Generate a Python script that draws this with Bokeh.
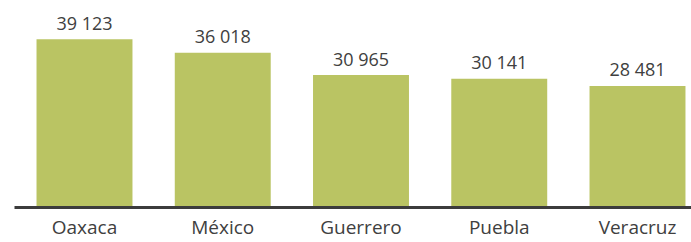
from bokeh.plotting import figure
from bokeh.models import Range1d, FixedTicker, ColumnDataSource
from bokeh.core.properties import value
from bokeh.embed import file_html
from bokeh.resources import INLINE

states = ["Oaxaca", "México", "Guerrero", "Puebla", "Veracruz"]
values = [39123, 36018, 30965, 30141, 28481]
value_labels = ["39 123", "36 018", "30 965", "30 141", "28 481"]

xs = list(range(len(states)))
src = ColumnDataSource(dict(x=xs, v=values, lab=value_labels))

p = figure(width=691, height=242, output_backend="svg", toolbar_location=None,
           x_range=Range1d(-0.5063, 4.3906), y_range=Range1d(820, 47920),
           min_border_left=14, min_border_right=0, min_border_top=0, min_border_bottom=35)
p.outline_line_color = None
p.background_fill_color = "white"
p.border_fill_color = "white"
p.grid.visible = False
p.yaxis.visible = False

p.vbar(x="x", top="v", bottom=0, width=0.694, source=src,
       fill_color="#bac463", line_color=None)
p.text(x="x", y="v", text="lab", source=src, text_align="center",
       text_baseline="alphabetic", y_offset=-16.5,
       text_font=value("Open Sans"), text_font_size="18px", text_color="#404040")

ax = p.xaxis[0]
ax.ticker = FixedTicker(ticks=xs)
ax.major_label_overrides = {i: s for i, s in enumerate(states)}
ax.axis_line_color = "#3c3c3c"
ax.axis_line_width = 3
ax.major_tick_line_color = None
ax.minor_tick_line_color = None
ax.major_tick_out = 0
ax.major_tick_in = 0
ax.major_label_standoff = 6
ax.major_label_text_font = "Open Sans"
ax.major_label_text_font_size = "19px"
ax.major_label_text_color = "#404040"

open("out.html", "w").write(file_html(p, INLINE))
